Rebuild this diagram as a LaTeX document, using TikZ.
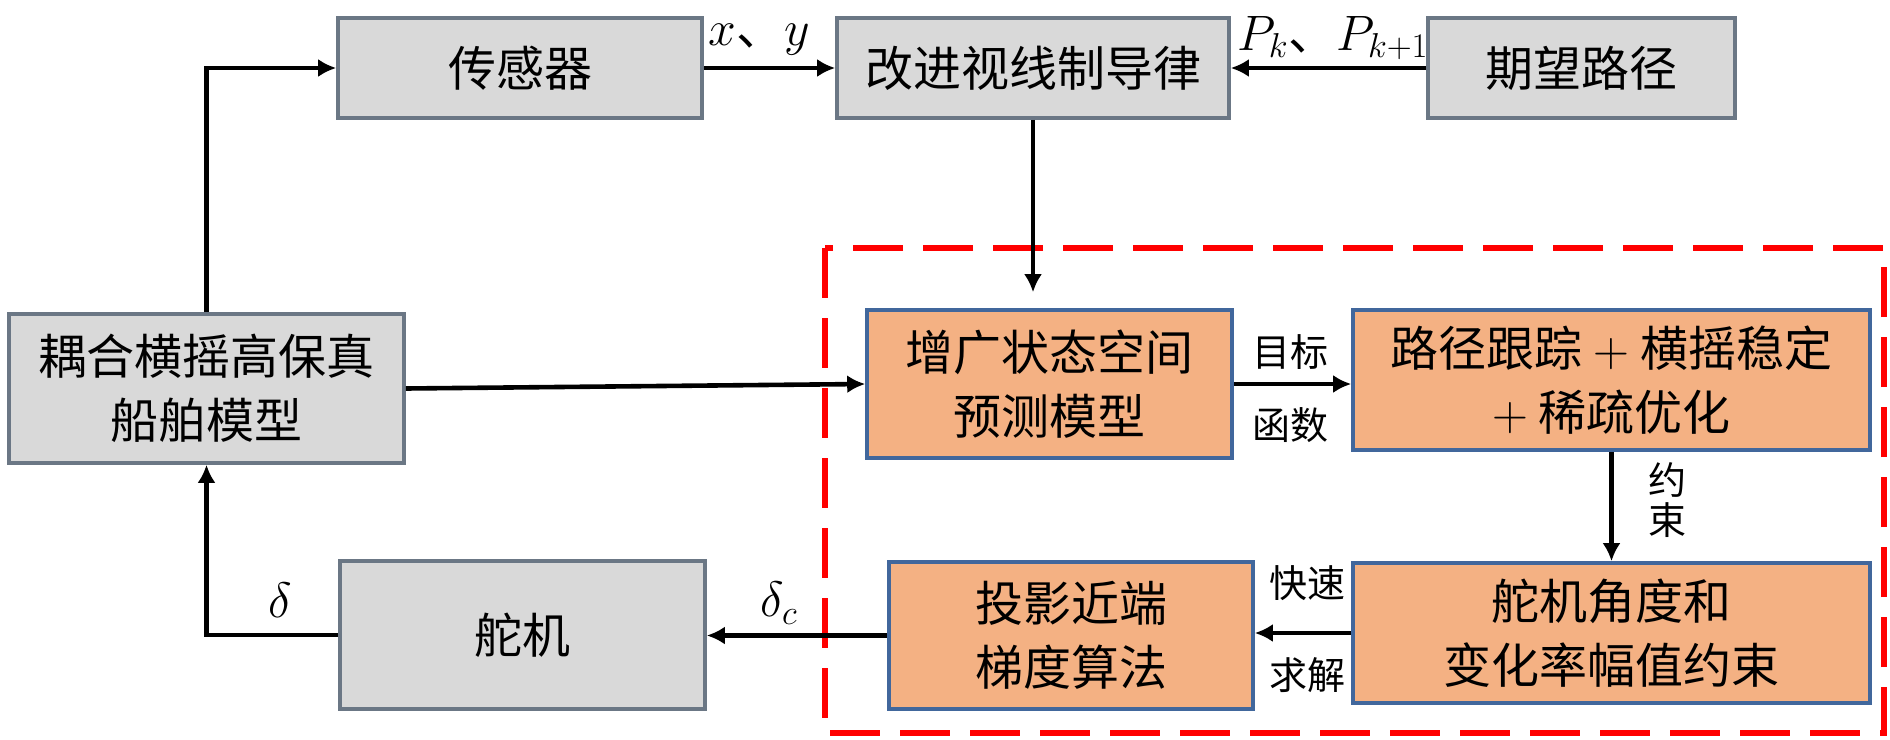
\documentclass[tikz,border=0pt]{standalone}
\usepackage{fontspec}
\newfontfamily\cjk{Noto Sans CJK SC}
\usetikzlibrary{arrows.meta}
\definecolor{boxgray}{HTML}{D9D9D9}
\definecolor{grayedge}{HTML}{6B7785}
\definecolor{boxorange}{HTML}{F4B183}
\definecolor{orangeedge}{HTML}{41679C}
\begin{document}
\begin{tikzpicture}[x=0.5pt,y=-0.5pt,
  base/.style={line width=1.8pt, inner sep=0pt, align=center, font=\cjk\fontsize{24}{32}\selectfont},
  graybox/.style={base, draw=grayedge, fill=boxgray},
  orangebox/.style={base, draw=orangeedge, fill=boxorange},
  lbl/.style={inner sep=0pt, font=\cjk\fontsize{19}{24}\selectfont},
  mlbl/.style={inner sep=0pt, font=\fontsize{24}{28}\selectfont},
  arr/.style={line width=2.3pt, -{Latex[length=9pt,width=9pt]}},
  region/.style={draw=red, line width=3pt, dash pattern=on 25pt off 10pt}
]
\useasboundingbox (0,0) rectangle (1890,739);
\draw[region] (825,248) rectangle (1884,733);

\node[graybox, minimum width=182pt, minimum height=50pt] (sensor) at (520,68) {传感器};
\node[graybox, minimum width=196pt, minimum height=50pt] (guide) at (1033,68) {改进视线制导律};
\node[graybox, minimum width=153.5pt, minimum height=50pt] (path) at (1581.5,68) {期望路径};
\node[graybox, minimum width=197.5pt, minimum height=74.5pt] (model) at (206.5,388.5) {耦合横摇高保真\\船舶模型};
\node[orangebox, minimum width=182.5pt, minimum height=74pt] (aug) at (1049.5,384) {增广状态空间\\预测模型};
\node[orangebox, minimum width=258.5pt, minimum height=70pt] (opt) at (1611.5,380) {路径跟踪 $+$ 横摇稳定\\$+$ 稀疏优化};
\node[orangebox, minimum width=258.5pt, minimum height=70pt] (cons) at (1611.5,633) {舵机角度和\\变化率幅值约束};
\node[orangebox, minimum width=182pt, minimum height=73.5pt] (pg) at (1071,635.5) {投影近端\\梯度算法};
\node[graybox, minimum width=182.5pt, minimum height=74pt] (servo) at (522.5,635) {舵机};

\draw[arr] (model.north) |- (sensor.west);
\draw[arr] (sensor.east) -- (guide.west);
\draw[arr] (path.west) -- (guide.east);
\draw[arr, shorten >=8pt] (guide.south) -- (guide.south |- aug.north);
\draw[arr] (model.east) -- (aug.west);
\draw[arr] (aug.east) -- (aug.east -| opt.west);
\draw[arr] (opt.south) -- (cons.north);
\draw[arr] (cons.west) -- (cons.west -| pg.east);
\draw[arr] (pg.west) -- (pg.west -| servo.east);
\draw[arr] (servo.west) -| (model.south);

\node[mlbl] (lxy) at (759,40) {$x$\cjk 、$y$};
\node[mlbl] (lp) at (1333,38) {$P_k$\cjk 、$P_{k+1}$};
\node[lbl] (l1) at (1290,352) {目标};
\node[lbl] (l2) at (1290,425) {函数};
\node[lbl] (l3) at (1667,480) {约};
\node[lbl] (l4) at (1667,520) {束};
\node[lbl] (l5) at (1307,583) {快速};
\node[lbl] (l6) at (1307,675) {求解};
\node[mlbl] (ld) at (280,600) {$\delta$};
\node[mlbl] (ldc) at (779,603) {$\delta_c$};
\end{tikzpicture}
\end{document}
